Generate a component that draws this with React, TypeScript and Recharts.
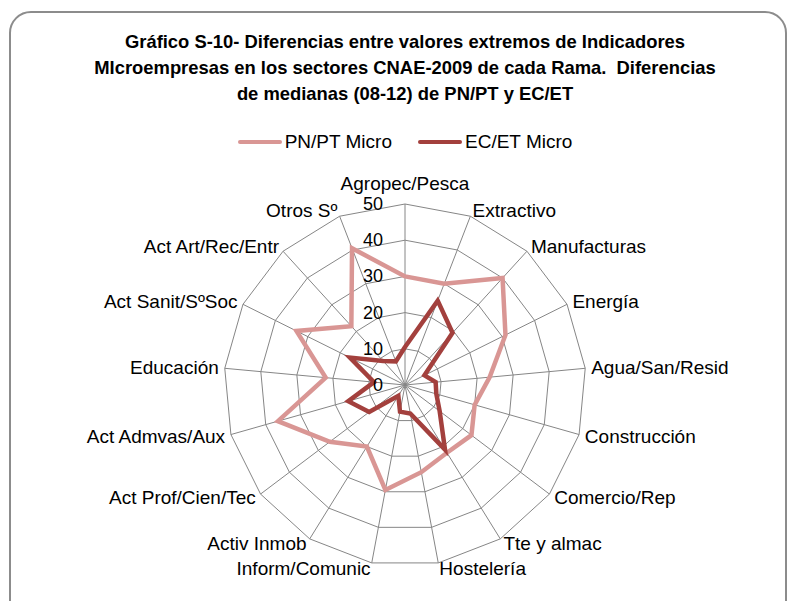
import React from 'react';
import { RadarChart, PolarGrid, PolarAngleAxis, PolarRadiusAxis, Radar, Legend } from 'recharts';

// sectores CNAE-2009, en el orden del gráfico (sentido horario desde arriba)
const sectors = [
  'Agropec/Pesca',
  'Extractivo',
  'Manufacturas',
  'Energía',
  'Agua/San/Resid',
  'Construcción',
  'Comercio/Rep',
  'Tte y almac',
  'Hostelería',
  'Inform/Comunic',
  'Activ Inmob',
  'Act Prof/Cien/Tec',
  'Act Admvas/Aux',
  'Educación',
  'Act Sanit/SºSoc',
  'Act Art/Rec/Entr',
  'Otros Sº',
];

const pnPtMicro = [30, 30, 40, 31, 23.5, 20, 23, 22, 24.5, 29.5, 20, 26, 36.5, 22, 33.5, 22, 40.5];
const ecEtMicro = [10.5, 25, 19.5, 6, 8.5, 9, 12, 21, 8, 7.5, 3.5, 12.4, 16.3, 8.6, 17, 9, 7];

const radiusTicks = [0, 10, 20, 30, 40, 50];

const titleLines = [
  'Gráfico S-10- Diferencias entre valores extremos de Indicadores',
  'MIcroempresas en los sectores CNAE-2009 de cada Rama.  Diferencias',
  'de medianas (08-12) de PN/PT y EC/ET',
];

const data = sectors.map((sector, i) => ({
  sector,
  pn: pnPtMicro[i],
  ec: ecEtMicro[i],
}));

const CX = 405;
const CY = 385;
const FONT = '"Liberation Sans", Arial, sans-serif';
const COLORS: Record<string, string> = { pn: '#D99694', ec: '#A3403D' };
const SERIES_ORDER = ['pn', 'ec'];

function SectorTick(props: any) {
  const { x, y, payload } = props;
  const dx = x - CX;
  let anchor: 'start' | 'middle' | 'end' = 'middle';
  if (dx > 1) anchor = 'start';
  else if (dx < -1) anchor = 'end';
  // la etiqueta de arriba queda encima del vértice
  const shift = anchor === 'middle' && y < CY ? -15 : 0;
  return (
    <text
      x={x}
      y={y + shift}
      textAnchor={anchor}
      dominantBaseline="central"
      fontSize={19}
      fontFamily={FONT}
      fill="#000"
    >
      {payload.value}
    </text>
  );
}

function ValueTick(props: any) {
  const { x, y, payload } = props;
  return (
    <text
      x={x - 22}
      y={y}
      textAnchor="end"
      dominantBaseline="central"
      fontSize={18}
      fontFamily={FONT}
      fill="#000"
    >
      {payload.value}
    </text>
  );
}

function LegendContent(props: any) {
  const items = [...(props.payload || [])].sort(
    (a: any, b: any) => SERIES_ORDER.indexOf(a.dataKey) - SERIES_ORDER.indexOf(b.dataKey)
  );
  return (
    <div
      style={{
        display: 'flex',
        justifyContent: 'center',
        gap: 26,
        fontFamily: FONT,
        fontSize: 19,
        lineHeight: '22px',
        color: '#000',
      }}
    >
      {items.map((entry: any) => (
        <span key={entry.value} style={{ display: 'flex', alignItems: 'center' }}>
          <span
            style={{
              display: 'inline-block',
              width: 44,
              height: 4,
              borderRadius: 2,
              marginRight: 3,
              background: COLORS[entry.dataKey] || entry.color,
            }}
          />
          {entry.value}
        </span>
      ))}
    </div>
  );
}

export default function App() {
  return (
    <div
      style={{
        position: 'absolute',
        left: 0,
        top: 0,
        width: 788,
        height: 601,
        overflow: 'hidden',
        background: '#fff',
      }}
    >
      {/* marco redondeado del gráfico */}
      <div
        style={{
          position: 'absolute',
          left: 9,
          top: 11,
          width: 774,
          height: 620,
          border: '2px solid #8c8c8c',
          borderRadius: 22,
        }}
      />

      {/* título */}
      <div
        style={{
          position: 'absolute',
          left: 0,
          top: 29,
          width: 810,
          textAlign: 'center',
          fontFamily: FONT,
          fontWeight: 'bold',
          fontSize: 18.4,
          lineHeight: '26px',
          whiteSpace: 'pre',
          color: '#000',
        }}
      >
        {titleLines.map((line) => (
          <div key={line}>{line}</div>
        ))}
      </div>

      <div style={{ position: 'absolute', left: 0, top: 0 }}>
        <RadarChart width={788} height={601} cx={CX} cy={CY} outerRadius={181} data={data}>
          <PolarGrid gridType="polygon" stroke="#868686" strokeWidth={1} />
          <PolarAngleAxis dataKey="sector" tickSize={6} tickLine={false} axisLine={false} tick={SectorTick} />
          <PolarRadiusAxis
            angle={90}
            type="number"
            domain={[0, 50]}
            ticks={radiusTicks as any}
            tickCount={6}
            axisLine={false}
            tick={ValueTick}
          />
          <Radar
            name="PN/PT Micro"
            dataKey="pn"
            stroke={COLORS.pn}
            strokeWidth={4.5}
            fill="none"
            fillOpacity={0}
            dot={false}
            isAnimationActive={false}
          />
          <Radar
            name="EC/ET Micro"
            dataKey="ec"
            stroke={COLORS.ec}
            strokeWidth={4.5}
            fill="none"
            fillOpacity={0}
            dot={false}
            isAnimationActive={false}
          />
          <Legend
            verticalAlign="top"
            content={LegendContent}
            wrapperStyle={{ position: 'absolute', top: 131, left: 0, width: 810 }}
          />
        </RadarChart>
      </div>
    </div>
  );
}
